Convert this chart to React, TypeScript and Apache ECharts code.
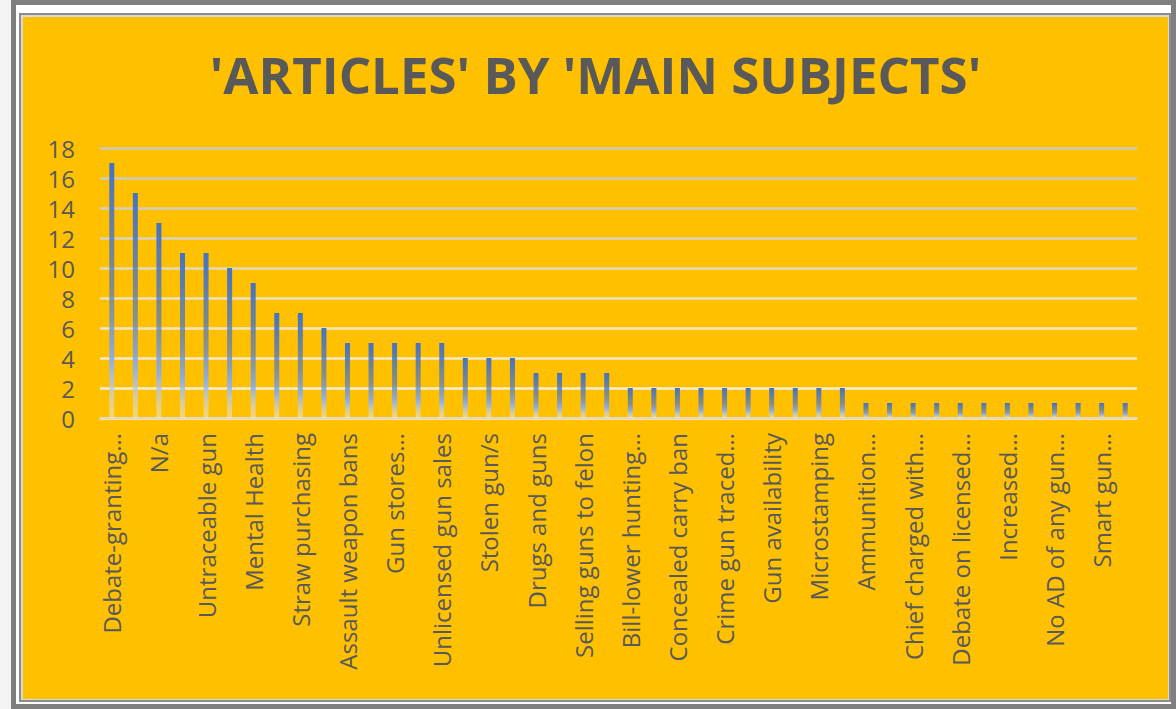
import React, { useEffect, useRef } from "react";
import * as echarts from "echarts";

const titleText = "'ARTICLES' BY 'MAIN SUBJECTS'";

const categories = [
  "Debate-granting…", "Gun violence", "N/a", "Gun control laws", "Untraceable gun",
  "Background checks", "Mental Health", "Gun trafficking", "Straw purchasing", "Gun shows",
  "Assault weapon bans", "Gun ownership", "Gun stores…", "Gun licensing", "Unlicensed gun sales",
  "Ghost guns", "Stolen gun/s", "Gun buyback", "Drugs and guns", "Gang violence",
  "Selling guns to felon", "Illegal possession", "Bill-lower hunting…", "Gun registry",
  "Concealed carry ban", "Gun lobby", "Crime gun traced…", "Gun dealers", "Gun availability",
  "Gun seizure", "Microstamping", "Open carry", "Ammunition…", "Bulk purchases",
  "Chief charged with…", "Court ruling", "Debate on licensed…", "Domestic violence",
  "Increased…", "Magazine limits", "No AD of any gun…", "Safe storage", "Smart gun…",
  "Waiting periods",
];

const articleCounts = [
  17, 15, 13, 11, 11, 10, 9, 7, 7, 6,
  5, 5, 5, 5, 5, 4, 4, 4, 3, 3,
  3, 3, 2, 2, 2, 2, 2, 2, 2, 2,
  2, 2, 1, 1, 1, 1, 1, 1, 1, 1,
  1, 1, 1, 1,
];

const yTicks = [0, 2, 4, 6, 8, 10, 12, 14, 16, 18];

export default function App() {
  const ref = useRef<HTMLDivElement>(null);
  useEffect(() => {
    if (!ref.current) return;
    const chart = echarts.init(ref.current, null, { renderer: "svg" });
    const gridColors = [
      "#f4ecd2", "#f6eed4", "#f3e9cc", "#efe4c4", "#ebe0c0",
      "#e2d8bc", "#d9d2bd", "#d2cdbf", "#cecac0", "#ccc8c0",
    ];
    chart.setOption({
      animation: false,
      backgroundColor: "#ffc000",
      title: {
        text: titleText,
        left: "center",
        top: 26,
        textStyle: {
          fontFamily: "Open Sans",
          fontWeight: "bold",
          fontSize: 51,
          color: "#595959",
        },
      },
      grid: { left: 77, right: 31, top: 131, bottom: 281, containLabel: false },
      xAxis: {
        type: "category",
        data: categories,
        axisLine: { lineStyle: { color: "#dcd8cc", width: 2 } },
        axisTick: { show: false },
        axisLabel: {
          interval: 1,
          rotate: 90,
          margin: 15,
          fontFamily: "Open Sans",
          fontSize: 24,
          lineHeight: 24,
          color: "#595959",
        },
      },
      yAxis: {
        type: "value",
        min: yTicks[0],
        max: yTicks[yTicks.length - 1],
        interval: 2,
        axisLine: { show: false },
        axisTick: { show: false },
        axisLabel: {
          margin: 25,
          fontFamily: "Open Sans",
          fontSize: 24,
          lineHeight: 24,
          color: "#595959",
        },
        splitLine: { lineStyle: { color: gridColors, width: 2.5 } },
      },
      series: [
        {
          type: "bar",
          data: articleCounts,
          barWidth: 5,
          itemStyle: {
            color: new echarts.graphic.LinearGradient(0, 0, 0, 1, [
              { offset: 0, color: "#4472c4" },
              { offset: 0.5, color: "rgba(80,120,190,0.7)" },
              { offset: 0.78, color: "rgba(143,176,234,0.95)" },
              { offset: 1, color: "rgba(240,235,220,0.5)" },
            ]),
          },
        },
      ],
    });
    return () => chart.dispose();
  }, []);

  return (
    <div
      style={{
        position: "fixed",
        left: 0,
        top: 0,
        width: 1176,
        height: 709,
        background: "#f4f4f4",
      }}
    >
      <div
        style={{
          position: "absolute",
          left: 11,
          top: 0,
          width: 1165,
          height: 709,
          boxSizing: "border-box",
          border: "5px solid #7f7f7f",
          background: "#ffffff",
        }}
      >
        <div
          style={{
            position: "absolute",
            left: 3,
            top: 8,
            right: 0,
            bottom: 2,
            boxSizing: "border-box",
            border: "2px solid #8c8c8c",
            background: "#d9d9d9",
          }}
        >
          <div
            ref={ref}
            style={{ position: "absolute", left: 2, top: 2, width: 1145, height: 682 }}
          />
        </div>
      </div>
    </div>
  );
}
